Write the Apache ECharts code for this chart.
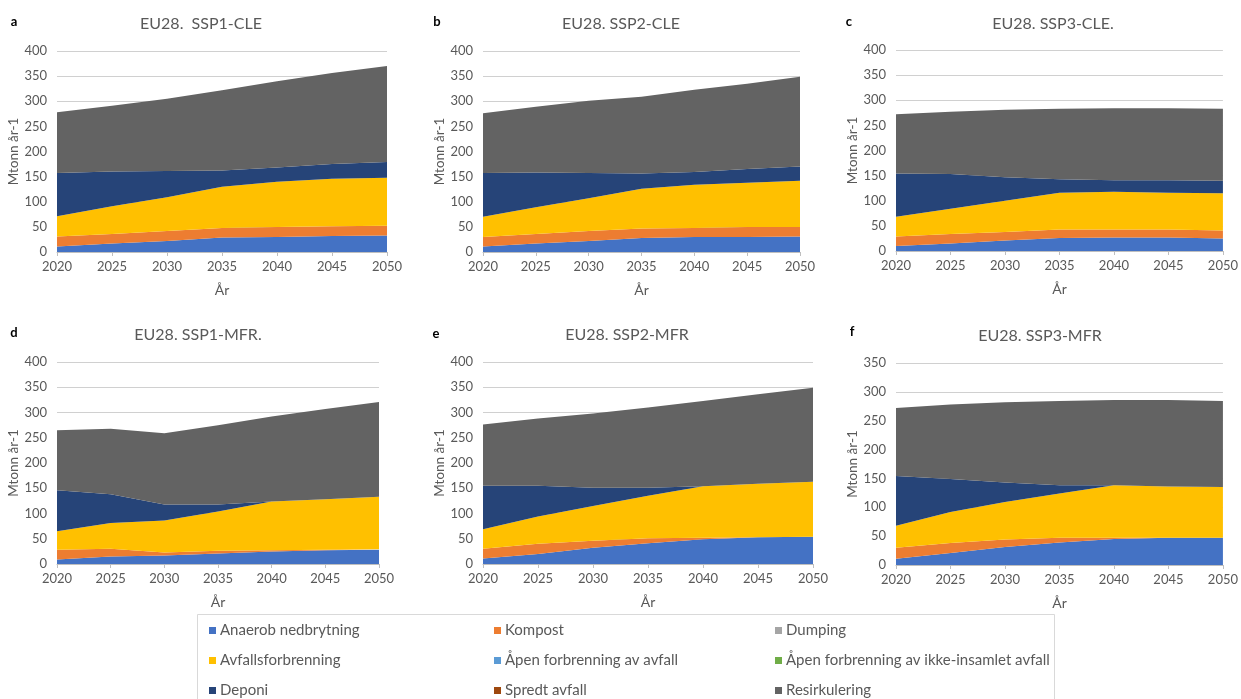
<!DOCTYPE html>
<html>
<head>
<meta charset="utf-8">
<script src="https://cdn.jsdelivr.net/npm/echarts@6/dist/echarts.min.js"></script>
<style>
  html, body { margin: 0; padding: 0; background: #ffffff; }
  #chart { width: 1241px; height: 699px; }
</style>
</head>
<body>
<div id="chart"></div>
<script>
// Years on the horizontal axis
const years = ['2020', '2025', '2030', '2035', '2040', '2045', '2050'];

// Waste treatment categories (stack order, bottom to top) and their colours
const categoryNames = [
  'Anaerob nedbrytning', 'Kompost', 'Dumping', 'Avfallsforbrenning',
  'Åpen forbrenning av avfall', 'Åpen forbrenning av ikke-insamlet avfall',
  'Deponi', 'Spredt avfall', 'Resirkulering'
];
const categoryColors = [
  '#4472C4', '#ED7D31', '#A5A5A5', '#FFC000',
  '#5B9BD5', '#70AD47', '#264478', '#9E480E', '#636363'
];

// Categories with no volume in any scenario
const zeros = [0, 0, 0, 0, 0, 0, 0];

// a: SSP1-CLE (Mtonn per year)
const ssp1CleAnaerob = [11, 17, 22, 29, 30, 32, 33];
const ssp1CleKompost = [20, 19, 20, 19, 20, 19, 19];
const ssp1CleForbrenning = [40, 55, 67, 82, 90, 95, 96];
const ssp1CleDeponi = [86, 69, 52, 32, 28, 29, 31];
const ssp1CleResirk = [121, 131, 144, 160, 172, 181, 191];

// b: SSP2-CLE
const ssp2CleAnaerob = [11, 17, 22, 28, 30, 30, 31];
const ssp2CleKompost = [19, 19, 20, 19, 18, 20, 19];
const ssp2CleForbrenning = [40, 53, 65, 79, 86, 88, 92];
const ssp2CleDeponi = [87, 69, 50, 30, 25, 27, 28];
const ssp2CleResirk = [119, 131, 144, 153, 164, 170, 179];

// c: SSP3-CLE
const ssp3CleAnaerob = [10, 15, 21, 26, 27, 27, 25];
const ssp3CleKompost = [19, 19, 17, 17, 16, 16, 16];
const ssp3CleForbrenning = [39, 50, 62, 73, 75, 73, 74];
const ssp3CleDeponi = [86, 69, 47, 27, 23, 25, 25];
const ssp3CleResirk = [118, 124, 134, 140, 143, 143, 143];

// d: SSP1-MFR
const ssp1MfrAnaerob = [9, 15, 17, 21, 25, 27, 28];
const ssp1MfrKompost = [19, 15, 6, 5, 2, 1, 1];
const ssp1MfrForbrenning = [37, 51, 63, 78, 97, 100, 104];
const ssp1MfrDeponi = [81, 57, 32, 14, 0, 0, 0];
const ssp1MfrResirk = [119, 130, 141, 157, 168, 179, 188];

// e: SSP2-MFR
const ssp2MfrAnaerob = [11, 20, 32, 41, 49, 53, 54];
const ssp2MfrKompost = [19, 20, 14, 10, 3, 0, 0];
const ssp2MfrForbrenning = [39, 54, 69, 84, 102, 106, 109];
const ssp2MfrDeponi = [86, 61, 36, 16, 0, 0, 0];
const ssp2MfrResirk = [121, 133, 147, 159, 169, 177, 186];

// f: SSP3-MFR
const ssp3MfrAnaerob = [11, 21, 31, 39, 45, 47, 47];
const ssp3MfrKompost = [19, 17, 13, 8, 2, 0, 0];
const ssp3MfrForbrenning = [38, 54, 65, 77, 91, 89, 88];
const ssp3MfrDeponi = [86, 57, 34, 14, 0, 0, 0];
const ssp3MfrResirk = [118, 129, 139, 146, 148, 150, 149];

const FONT = 'Lato, "Noto Sans", sans-serif';
const TEXT = '#595959';

const panels = [
  { letter: 'a', title: 'EU28.  SSP1-CLE', yMax: 400,
    data: [ssp1CleAnaerob, ssp1CleKompost, zeros, ssp1CleForbrenning, zeros, zeros, ssp1CleDeponi, zeros, ssp1CleResirk],
    grid: { left: 57, top: 51, width: 330, height: 201 }, titleAt: [201, 24], letterAt: [14, 22] },
  { letter: 'b', title: 'EU28. SSP2-CLE', yMax: 400,
    data: [ssp2CleAnaerob, ssp2CleKompost, zeros, ssp2CleForbrenning, zeros, zeros, ssp2CleDeponi, zeros, ssp2CleResirk],
    grid: { left: 483, top: 51, width: 317, height: 201 }, titleAt: [621, 24], letterAt: [437, 22] },
  { letter: 'c', title: 'EU28. SSP3-CLE.', yMax: 400,
    data: [ssp3CleAnaerob, ssp3CleKompost, zeros, ssp3CleForbrenning, zeros, zeros, ssp3CleDeponi, zeros, ssp3CleResirk],
    grid: { left: 896, top: 50, width: 330, height: 201 }, titleAt: [1053, 24], letterAt: [849, 22] },
  { letter: 'd', title: 'EU28. SSP1-MFR.', yMax: 400,
    data: [ssp1MfrAnaerob, ssp1MfrKompost, zeros, ssp1MfrForbrenning, zeros, zeros, ssp1MfrDeponi, zeros, ssp1MfrResirk],
    grid: { left: 57, top: 362, width: 322, height: 202 }, titleAt: [198, 335], letterAt: [14, 333] },
  { letter: 'e', title: 'EU28. SSP2-MFR', yMax: 400,
    data: [ssp2MfrAnaerob, ssp2MfrKompost, zeros, ssp2MfrForbrenning, zeros, zeros, ssp2MfrDeponi, zeros, ssp2MfrResirk],
    grid: { left: 483, top: 362, width: 330, height: 202 }, titleAt: [627, 335], letterAt: [436, 334] },
  { letter: 'f', title: 'EU28. SSP3-MFR', yMax: 350,
    data: [ssp3MfrAnaerob, ssp3MfrKompost, zeros, ssp3MfrForbrenning, zeros, zeros, ssp3MfrDeponi, zeros, ssp3MfrResirk],
    grid: { left: 896, top: 363, width: 330, height: 202 }, titleAt: [1040, 336], letterAt: [852, 332] }
];

const grid = [], xAxis = [], yAxis = [], series = [], graphic = [];

// Frame around the legend
graphic.push({
  type: 'rect', z: 0,
  shape: { x: 197.5, y: 614.5, width: 857, height: 95 },
  style: { fill: '#ffffff', stroke: '#D9D9D9', lineWidth: 1 }
});

panels.forEach((p, i) => {
  grid.push(Object.assign({ containLabel: false }, p.grid));
  xAxis.push({
    type: 'category', gridIndex: i, data: years, boundaryGap: false,
    axisLine: { lineStyle: { color: '#BFBFBF', width: 1 } },
    axisTick: { show: true, length: 4, lineStyle: { color: '#BFBFBF' } },
    axisLabel: { color: TEXT, fontSize: 13, fontFamily: FONT, margin: 8 },
    name: 'År', nameLocation: 'middle', nameGap: 31,
    nameTextStyle: { color: TEXT, fontSize: 14, fontFamily: FONT }
  });
  yAxis.push({
    type: 'value', gridIndex: i, min: 0, max: p.yMax, interval: 50,
    axisLine: { show: false }, axisTick: { show: false },
    splitLine: { lineStyle: { color: '#D0D0D0', width: 1 } },
    axisLabel: { color: TEXT, fontSize: 13, fontFamily: FONT, margin: 10 },
    name: 'Mtonn år-1', nameLocation: 'middle', nameGap: 35, nameRotate: 90,
    nameTextStyle: { color: TEXT, fontSize: 13.5, fontFamily: FONT }
  });
  categoryNames.forEach((name, k) => {
    series.push({
      type: 'line', name: name, xAxisIndex: i, yAxisIndex: i,
      stack: 'panel' + i, data: p.data[k],
      symbol: 'none', silent: true,
      lineStyle: { width: 0, color: categoryColors[k] },
      itemStyle: { color: categoryColors[k] },
      areaStyle: { color: categoryColors[k], opacity: 1 }
    });
  });
  graphic.push({
    type: 'text', x: p.titleAt[0], y: p.titleAt[1],
    style: { text: p.title, fill: TEXT, font: '16px ' + FONT, textAlign: 'center', textVerticalAlign: 'middle' }
  });
  graphic.push({
    type: 'text', x: p.letterAt[0], y: p.letterAt[1],
    style: { text: p.letter, fill: '#000000', font: 'bold 13px ' + FONT, textAlign: 'center', textVerticalAlign: 'middle' }
  });
});

// Legend laid out in three columns
const legendCols = [
  { left: 209, names: [categoryNames[0], categoryNames[3], categoryNames[6]] },
  { left: 494, names: [categoryNames[1], categoryNames[4], categoryNames[7]] },
  { left: 775, names: [categoryNames[2], categoryNames[5], categoryNames[8]] }
];
const legend = legendCols.map(c => ({
  orient: 'vertical', left: c.left, top: 623, padding: 0,
  itemGap: 15, itemWidth: 7, itemHeight: 7, icon: 'rect',
  selectedMode: false, z: 5,
  textStyle: { color: TEXT, fontSize: 15, fontFamily: FONT, lineHeight: 15, padding: [0, 0, 0, -1] },
  data: c.names
}));

const chart = echarts.init(document.getElementById('chart'));
chart.setOption({
  animation: false,
  backgroundColor: '#ffffff',
  grid, xAxis, yAxis, series, legend, graphic
});
</script>
</body>
</html>
